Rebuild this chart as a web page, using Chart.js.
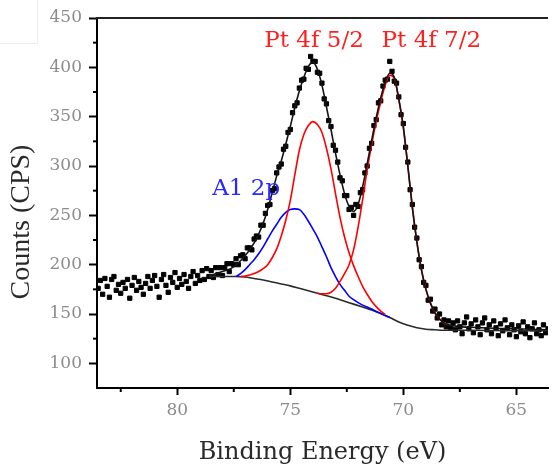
<!DOCTYPE html>
<html>
<head>
<meta charset="utf-8">
<title>Pt 4f / Al 2p XPS</title>
<script src="https://cdn.jsdelivr.net/npm/chart.js@4.4.1/dist/chart.umd.min.js"></script>
<style>
    html, body { margin: 0; padding: 0; background: #fff; }
    #xps { display: block; }
</style>
</head>
<body>
<canvas id="xps" width="553" height="464"></canvas>
<script>
// measured spectrum (binding energy in eV, counts in CPS)
var energy = [
    83.5, 83.4, 83.3, 83.2, 83.1, 83.0, 82.9, 82.8, 82.7, 82.6,
    82.5, 82.4, 82.3, 82.2, 82.1, 82.0, 81.9, 81.8, 81.7, 81.6,
    81.5, 81.4, 81.3, 81.2, 81.1, 81.0, 80.9, 80.8, 80.7, 80.6,
    80.5, 80.4, 80.3, 80.2, 80.1, 80.0, 79.9, 79.8, 79.7, 79.6,
    79.5, 79.4, 79.3, 79.2, 79.1, 79.0, 78.9, 78.8, 78.7, 78.6,
    78.5, 78.4, 78.3, 78.2, 78.1, 78.0, 77.9, 77.8, 77.7, 77.6,
    77.5, 77.4, 77.3, 77.2, 77.1, 77.0, 76.9, 76.8, 76.7, 76.6,
    76.5, 76.4, 76.3, 76.2, 76.1, 76.0, 75.9, 75.8, 75.7, 75.6,
    75.5, 75.4, 75.3, 75.2, 75.1, 75.0, 74.9, 74.8, 74.7, 74.6,
    74.5, 74.4, 74.3, 74.2, 74.1, 74.0, 73.9, 73.8, 73.7, 73.6,
    73.5, 73.4, 73.3, 73.2, 73.1, 73.0, 72.9, 72.8, 72.7, 72.6,
    72.5, 72.4, 72.3, 72.2, 72.1, 72.0, 71.9, 71.8, 71.7, 71.6,
    71.5, 71.4, 71.3, 71.2, 71.1, 71.0, 70.9, 70.8, 70.7, 70.6,
    70.5, 70.4, 70.3, 70.2, 70.1, 70.0, 69.9, 69.8, 69.7, 69.6,
    69.5, 69.4, 69.3, 69.2, 69.1, 69.0, 68.9, 68.8, 68.7, 68.6,
    68.5, 68.4, 68.3, 68.2, 68.1, 68.0, 67.9, 67.8, 67.7, 67.6,
    67.5, 67.4, 67.3, 67.2, 67.1, 67.0, 66.9, 66.8, 66.7, 66.6,
    66.5, 66.4, 66.3, 66.2, 66.1, 66.0, 65.9, 65.8, 65.7, 65.6,
    65.5, 65.4, 65.3, 65.2, 65.1, 65.0, 64.9, 64.8, 64.7, 64.6,
    64.5, 64.4, 64.3, 64.2, 64.1, 64.0, 63.9, 63.8, 63.7, 63.6
];
var counts = [
    176, 184, 170, 186, 178, 167, 185, 188, 174, 180,
    171, 182, 176, 185, 166, 179, 187, 174, 183, 177,
    170, 181, 188, 176, 184, 189, 178, 167, 185, 190,
    179, 172, 187, 182, 192, 177, 186, 180, 190, 183,
    176, 188, 193, 181, 189, 184, 194, 185, 196, 188,
    194, 187, 197, 190, 197, 189, 197, 201, 193, 201,
    200, 206, 200, 209, 210, 206, 217, 217, 215, 226,
    229, 228, 240, 240, 252, 260, 261, 275, 277, 293,
    299, 302, 317, 320, 334, 337, 354, 361, 364, 379,
    387, 388, 399, 398, 411, 406, 406, 395, 394, 384,
    368, 363, 346, 340, 321, 316, 304, 288, 285, 270,
    270, 256, 258, 250, 261, 259, 273, 276, 293, 300,
    318, 323, 341, 347, 364, 366, 381, 387, 388, 406,
    396, 386, 384, 370, 352, 343, 319, 304, 276, 261,
    238, 227, 205, 198, 182, 179, 164, 165, 153, 155,
    146, 150, 139, 144, 137, 143, 136, 141, 134, 143,
    137, 130, 141, 147, 135, 140, 131, 144, 137, 129,
    141, 146, 134, 139, 130, 143, 136, 128, 140, 133,
    144, 136, 129, 139, 134, 127, 138, 132, 142, 130,
    137, 126, 135, 141, 130, 134, 128, 139, 131, 135
];

// fit envelope
var fitEnergy = [
    78.6, 78.4, 78.2, 78.0, 77.8, 77.6, 77.4, 77.2, 77.0, 76.8,
    76.6, 76.4, 76.2, 76.0, 75.8, 75.6, 75.4, 75.2, 75.0, 74.8,
    74.6, 74.4, 74.2, 74.0, 73.8, 73.6, 73.4, 73.2, 73.0, 72.8,
    72.6, 72.4, 72.2, 72.0, 71.8, 71.6, 71.4, 71.2, 71.0, 70.8,
    70.6, 70.4, 70.2, 70.0, 69.8, 69.6, 69.4, 69.2, 69.0, 68.8,
    68.6, 68.4, 68.2, 68.0, 67.6, 67.0, 66.0, 65.0, 63.6
];
var fitTotal = [
    189, 190, 191.5, 193, 194.5, 196.5, 199.5, 204, 209, 215,
    222, 231, 242, 256, 273, 290, 305, 322, 340, 359,
    376, 390, 401, 405, 398, 382, 360, 337, 313, 291,
    272, 259, 254, 261, 279, 302, 326, 349, 369, 385,
    394, 390, 368, 340, 300, 258, 223, 195, 175, 161,
    151, 145, 141, 139, 137.5, 136.5, 135.5, 135, 134
];

// background
var bgEnergy = [78.6, 78.0, 77.4, 77.0, 76.6, 76.2, 75.8, 75.4, 75.0, 74.6,
    74.2, 73.8, 73.4, 73.0, 72.6, 72.2, 71.8, 71.4, 71.0, 70.6,
    70.2, 69.8, 69.4, 69.0, 68.6, 68.2, 67.0, 65.0, 63.6];
var bgCounts = [188, 188, 188, 187.5, 186, 184.5, 182.5, 180.5, 178.5, 176,
    173.5, 171, 168.5, 166, 163, 160, 157, 154, 150.5, 146.5,
    142, 138.5, 136, 134.5, 134, 133.5, 133.5, 133, 133];

// Al 2p component
var alEnergy = [77.4, 77.2, 77.0, 76.8, 76.6, 76.4, 76.2, 76.0, 75.8, 75.6,
    75.4, 75.2, 75.0, 74.8, 74.6, 74.4, 74.2, 74.0, 73.8, 73.6,
    73.4, 73.2, 73.0, 72.8, 72.6, 72.4, 72.2, 72.0, 71.8, 71.6,
    71.4, 71.2, 71.0, 70.8, 70.6];
var alCounts = [188, 191, 195, 200, 205, 211, 218, 226, 234, 241,
    248, 253, 256, 256.5, 256, 251, 244, 236, 228, 218,
    208, 197, 188, 180, 174, 168, 164.5, 161.5, 159, 157,
    155, 152.5, 150.5, 148.5, 146.5];

// Pt 4f 5/2 component
var pt52Energy = [77.2, 77.0, 76.8, 76.6, 76.4, 76.2, 76.0, 75.8, 75.6, 75.4,
    75.2, 75.0, 74.8, 74.6, 74.4, 74.2, 74.0, 73.8, 73.6, 73.4,
    73.2, 73.0, 72.8, 72.6, 72.4, 72.2, 72.0, 71.8, 71.6, 71.4,
    71.2, 71.0, 70.8];
var pt52Counts = [188, 188.5, 189.5, 191, 193, 196, 200, 207, 216, 229,
    245, 265, 291, 316, 332, 341, 345, 342, 334, 318,
    297, 272, 248, 228, 212, 199, 188, 178, 170, 163,
    157.5, 153, 149.5];

// Pt 4f 7/2 component
var pt72Energy = [73.8, 73.6, 73.4, 73.2, 73.0, 72.8, 72.6, 72.4, 72.2, 72.0,
    71.8, 71.6, 71.4, 71.2, 71.0, 70.8, 70.6, 70.4, 70.2, 70.0,
    69.8, 69.6, 69.4, 69.2, 69.0, 68.8, 68.6, 68.4, 68.2, 68.0];
var pt72Counts = [171, 170.5, 170.5, 172, 176, 183, 191, 200, 215, 238,
    266, 296, 322, 345, 365, 382, 392, 389, 367, 339,
    300, 258, 223, 195, 175, 161, 151, 145, 141, 139];

var xMajorTicks = [65, 70, 75, 80];
var xMinorTicks = [67.5, 72.5, 77.5, 82.5];
var yMajorTicks = [100, 150, 200, 250, 300, 350, 400, 450];
var yMinorTicks = [125, 175, 225, 275, 325, 375, 425];

var peakLabels = [
    { text: 'Pt 4f 5/2', x: 73.95, y: 420.5, color: '#ff1f1f' },
    { text: 'Pt 4f 7/2', x: 68.76, y: 420.5, color: '#ff1f1f' },
    { text: 'A1 2p', x: 76.95, y: 271, color: '#2a2aff' }
];

function pairs(xs, ys) {
    return xs.map(function (x, i) {
        return { x: x, y: ys[i] };
    });
}

function curve(xs, ys, color, order) {
    return {
        data: pairs(xs, ys),
        showLine: true,
        borderColor: color,
        borderWidth: 1.6,
        pointRadius: 0,
        cubicInterpolationMode: 'monotone',
        order: order
    };
}

var serif = 'DejaVu Serif';

// top frame, minor ticks, y title and peak names
var decorations = {
    id: 'decorations',
    afterDraw: function (chart) {
        var ctx = chart.ctx;
        var area = chart.chartArea;
        var xs = chart.scales.x;
        var ys = chart.scales.y;
        ctx.save();

        ctx.strokeStyle = '#ececec';
        ctx.lineWidth = 1;
        ctx.beginPath();
        ctx.moveTo(0, 43.5);
        ctx.lineTo(37.5, 43.5);
        ctx.lineTo(37.5, 0);
        ctx.stroke();

        ctx.strokeStyle = '#222';
        ctx.lineWidth = 2;
        ctx.beginPath();
        ctx.moveTo(area.left - 1, area.top);
        ctx.lineTo(area.right, area.top);
        ctx.stroke();

        ctx.strokeStyle = '#000';
        xMinorTicks.forEach(function (v) {
            var px = xs.getPixelForValue(v);
            ctx.beginPath();
            ctx.moveTo(px, area.bottom);
            ctx.lineTo(px, area.bottom + 4);
            ctx.stroke();
        });
        yMinorTicks.forEach(function (v) {
            var py = ys.getPixelForValue(v);
            ctx.beginPath();
            ctx.moveTo(area.left, py);
            ctx.lineTo(area.left - 4, py);
            ctx.stroke();
        });

        ctx.save();
        ctx.translate(22, 222);
        ctx.rotate(-Math.PI / 2);
        ctx.font = '28px "Liberation Serif"';
        ctx.fillStyle = '#2a2a2a';
        ctx.textAlign = 'center';
        ctx.textBaseline = 'middle';
        ctx.fillText('Counts (CPS)', 0, 0);
        ctx.restore();

        ctx.font = '23px "' + serif + '"';
        ctx.textAlign = 'center';
        ctx.textBaseline = 'alphabetic';
        peakLabels.forEach(function (l) {
            ctx.fillStyle = l.color;
            ctx.fillText(l.text, xs.getPixelForValue(l.x), ys.getPixelForValue(l.y));
        });
        ctx.restore();
    }
};

var ctx = document.getElementById('xps');
var xpsChart = new Chart(ctx, {
    type: 'scatter',
    data: {
        datasets: [
            curve(fitEnergy, fitTotal, '#141414', 0),
            curve(pt72Energy, pt72Counts, '#ff0000', 1),
            curve(pt52Energy, pt52Counts, '#ff0000', 1),
            curve(alEnergy, alCounts, '#0000ff', 2),
            curve(bgEnergy, bgCounts, '#2a2a2a', 3),
            {
                data: pairs(energy, counts),
                pointStyle: 'rect',
                pointRadius: 3,
                pointBackgroundColor: '#000',
                pointBorderColor: '#000',
                pointBorderWidth: 1,
                showLine: false,
                order: 4
            }
        ]
    },
    options: {
        responsive: false,
        animation: false,
        devicePixelRatio: 1,
        layout: { padding: { top: 18, right: 0, bottom: 0, left: 0 } },
        plugins: {
            legend: { display: false },
            tooltip: { enabled: false }
        },
        scales: {
            x: {
                type: 'linear',
                reverse: true,
                min: 63.6,
                max: 83.55,
                afterFit: function (scale) { scale.height = 76; },
                afterBuildTicks: function (scale) {
                    scale.ticks = xMajorTicks.map(function (v) { return { value: v }; });
                },
                ticks: {
                    color: '#8c8c8c',
                    font: { family: serif, size: 17 },
                    padding: 5,
                    maxRotation: 0
                },
                grid: { drawOnChartArea: false, tickLength: 7, tickWidth: 2, tickColor: '#000' },
                border: { display: true, color: '#000', width: 2 },
                title: {
                    display: true,
                    text: 'Binding Energy (eV)',
                    color: '#2a2a2a',
                    font: { family: serif, size: 24, lineHeight: 0.9 },
                    padding: { top: 0, bottom: 0 }
                }
            },
            y: {
                min: 75,
                max: 450,
                afterFit: function (scale) { scale.width = 97; },
                afterBuildTicks: function (scale) {
                    scale.ticks = yMajorTicks.map(function (v) { return { value: v }; });
                },
                ticks: {
                    color: '#8c8c8c',
                    font: { family: serif, size: 17 },
                    padding: 7
                },
                grid: { drawOnChartArea: false, tickLength: 8, tickWidth: 2, tickColor: '#000' },
                border: { display: true, color: '#000', width: 2 }
            }
        }
    },
    plugins: [decorations]
});
</script>
</body>
</html>
